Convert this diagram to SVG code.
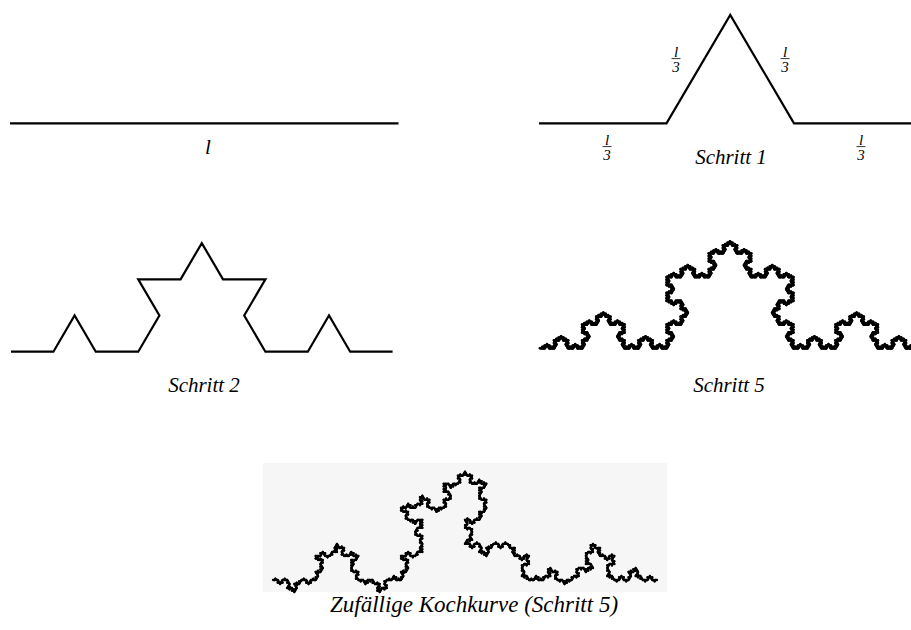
<svg xmlns="http://www.w3.org/2000/svg" width="911" height="630" viewBox="0 0 911 630">
<style>
.line{fill:none;stroke:#000;stroke-width:2.2;stroke-linejoin:miter}
.seg{fill:none;stroke:#000;vector-effect:non-scaling-stroke;stroke-linecap:round}
.cap{font-family:"Liberation Serif","Times New Roman",serif;font-style:italic;font-size:21px;fill:#000;text-anchor:middle}
.fr{font-family:"Liberation Serif","Times New Roman",serif;font-style:italic;font-size:15px;fill:#000;text-anchor:middle}
.bar{stroke:#000;stroke-width:0.8}
</style>
<defs>
<path id="k0" class="seg" d="M0 0H1"/>
<g id="k1"><use href="#k0" transform="scale(.333333)"/><use href="#k0" transform="translate(.333333 0) rotate(-60) scale(.333333)"/><use href="#k0" transform="translate(.5 -.288675) rotate(60) scale(.333333)"/><use href="#k0" transform="translate(.666667 0) scale(.333333)"/></g>
<g id="k2"><use href="#k1" transform="scale(.333333)"/><use href="#k1" transform="translate(.333333 0) rotate(-60) scale(.333333)"/><use href="#k1" transform="translate(.5 -.288675) rotate(60) scale(.333333)"/><use href="#k1" transform="translate(.666667 0) scale(.333333)"/></g>
<g id="k3"><use href="#k2" transform="scale(.333333)"/><use href="#k2" transform="translate(.333333 0) rotate(-60) scale(.333333)"/><use href="#k2" transform="translate(.5 -.288675) rotate(60) scale(.333333)"/><use href="#k2" transform="translate(.666667 0) scale(.333333)"/></g>
<g id="k4"><use href="#k3" transform="scale(.333333)"/><use href="#k3" transform="translate(.333333 0) rotate(-60) scale(.333333)"/><use href="#k3" transform="translate(.5 -.288675) rotate(60) scale(.333333)"/><use href="#k3" transform="translate(.666667 0) scale(.333333)"/></g>
<g id="k5"><use href="#k4" transform="scale(.333333)"/><use href="#k4" transform="translate(.333333 0) rotate(-60) scale(.333333)"/><use href="#k4" transform="translate(.5 -.288675) rotate(60) scale(.333333)"/><use href="#k4" transform="translate(.666667 0) scale(.333333)"/></g>
<g id="r2a"><use href="#k1" transform="scale(.333333)"/><use href="#k1" transform="translate(.333333 0) rotate(-60) scale(.333333 -.333333)"/><use href="#k1" transform="translate(.5 -.288675) rotate(60) scale(.333333)"/><use href="#k1" transform="translate(.666667 0) scale(.333333)"/></g>
<g id="r2b"><use href="#k1" transform="scale(.333333 -.333333)"/><use href="#k1" transform="translate(.333333 0) rotate(-60) scale(.333333)"/><use href="#k1" transform="translate(.5 -.288675) rotate(60) scale(.333333)"/><use href="#k1" transform="translate(.666667 0) scale(.333333 -.333333)"/></g>
<g id="r3a"><use href="#r2a" transform="scale(.333333)"/><use href="#r2b" transform="translate(.333333 0) rotate(-60) scale(.333333 -.333333)"/><use href="#r2b" transform="translate(.5 -.288675) rotate(60) scale(.333333)"/><use href="#r2a" transform="translate(.666667 0) scale(.333333 -.333333)"/></g>
<g id="r3b"><use href="#r2b" transform="scale(.333333)"/><use href="#r2a" transform="translate(.333333 0) rotate(-60) scale(.333333)"/><use href="#r2a" transform="translate(.5 -.288675) rotate(60) scale(.333333 -.333333)"/><use href="#r2b" transform="translate(.666667 0) scale(.333333)"/></g>
<g id="r4a"><use href="#r3a" transform="scale(.333333)"/><use href="#r3b" transform="translate(.333333 0) rotate(-60) scale(.333333 -.333333)"/><use href="#r3a" transform="translate(.5 -.288675) rotate(60) scale(.333333)"/><use href="#r3b" transform="translate(.666667 0) scale(.333333)"/></g>
<g id="r4b"><use href="#r3b" transform="scale(.333333 -.333333)"/><use href="#r3a" transform="translate(.333333 0) rotate(-60) scale(.333333)"/><use href="#r3b" transform="translate(.5 -.288675) rotate(60) scale(.333333)"/><use href="#r3a" transform="translate(.666667 0) scale(.333333 -.333333)"/></g>
<g id="r5"><use href="#r4b" transform="scale(.333333)"/><use href="#r4a" transform="translate(.333333 0) rotate(-60) scale(.333333)"/><use href="#r4b" transform="translate(.5 -.288675) rotate(60) scale(.333333 -.333333)"/><use href="#r4a" transform="translate(.666667 0) scale(.333333)"/></g>
</defs>
<rect width="911" height="630" fill="#fff"/>

<g id="step0">
<path class="line" d="M10 123.3H398.5"/>
<text class="cap" x="208" y="154">l</text>
</g>

<g id="step1">
<path class="line" d="M539 123.3H666.5L730.25 15L794 123.3H921.5"/>
<text class="fr" x="607" y="144.5">l</text><path class="bar" d="M602.5 146.6h9"/><text class="fr" x="607" y="160">3</text>
<text class="fr" x="676" y="56.5">l</text><path class="bar" d="M671.5 58.6h9"/><text class="fr" x="676" y="72">3</text>
<text class="fr" x="785" y="56.5">l</text><path class="bar" d="M780.5 58.6h9"/><text class="fr" x="785" y="72">3</text>
<text class="fr" x="861" y="144.5">l</text><path class="bar" d="M856.5 146.6h9"/><text class="fr" x="861" y="160">3</text>
<text class="cap" x="731" y="163.5">Schritt 1</text>
</g>

<g id="step2">
<path class="line" d="M11 351.7H53.4L74.6 315.5L95.8 351.7H138.2L159.4 315.5L138.2 279.3H180.6L201.8 243.1L223 279.3H265.4L244.2 315.5L265.4 351.7H307.8L329 315.5L350.2 351.7H392.6"/>
<text class="cap" x="204" y="392">Schritt 2</text>
</g>

<g id="step5">
<g stroke-width="2.8"><use href="#k5" transform="translate(540 348.3) scale(380 370)"/></g>
<text class="cap" x="729" y="392">Schritt 5</text>
</g>

<g id="random">
<rect x="263" y="463" width="404" height="129" fill="#f6f6f6"/>
<g stroke-width="2.3"><use href="#r5" transform="translate(273 580) scale(384 375)"/></g>
<text class="cap" x="474" y="612" style="font-size:23px">Zufällige Kochkurve (Schritt 5)</text>
</g>
</svg>
